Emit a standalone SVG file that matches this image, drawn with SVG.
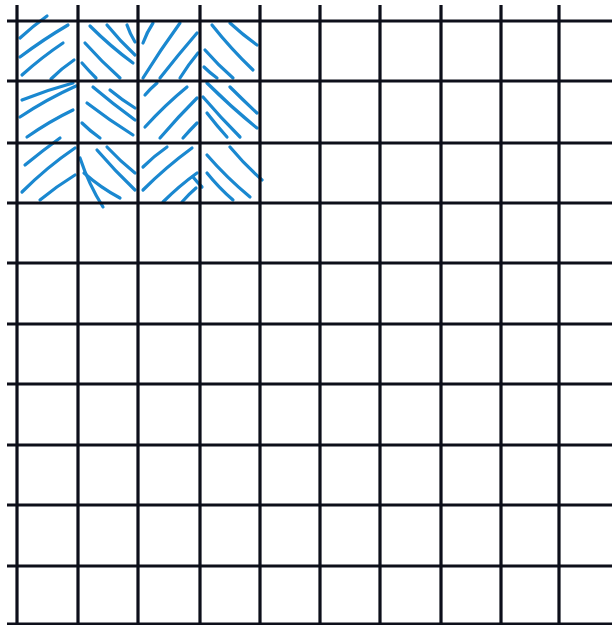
<svg xmlns="http://www.w3.org/2000/svg" width="612" height="625" viewBox="0 0 612 625">
<style>
.g{stroke:#0d0f1a;stroke-width:3.2;fill:none}
.h{stroke:#1a88d0;stroke-width:3.2;fill:none;stroke-linecap:round}
</style>
<rect width="612" height="625" fill="#ffffff"/>
<g id="hatching" class="h">
<!-- c0 r0 / -->
<path d="M20,38 Q33,26 47,16"/>
<path d="M20,57 Q44,39 68,25"/>
<path d="M22,75 Q42,57 63,43"/>
<path d="M51,79 Q62,68 74,60"/>
<!-- c1 r0 \ -->
<path d="M90,26 Q110,46 133,63"/>
<path d="M85,43 Q101,61 120,78"/>
<path d="M82,63 Q89,71 96,78"/>
<path d="M107,25 Q120,41 135,55"/>
<path d="M127,25 Q130,34 135,42"/>
<!-- c2 r0 / -->
<path d="M143,43 Q147,32 153,23"/>
<path d="M143,78 Q161,49 180,23"/>
<path d="M160,78 Q178,55 197,33"/>
<path d="M180,78 Q188,65 198,53"/>
<!-- c3 r0 \ -->
<path d="M212,25 Q231,49 253,70"/>
<path d="M230,23 Q243,35 257,45"/>
<path d="M205,50 Q218,65 233,78"/>
<path d="M204,67 Q210,73 217,78"/>
<!-- c0 r1 / -->
<path d="M22,100 Q47,90 73,83"/>
<path d="M20,117 Q47,99 76,86"/>
<path d="M27,137 Q50,121 73,110"/>
<!-- c1 r1 \ -->
<path d="M93,87 Q113,104 135,120"/>
<path d="M87,103 Q109,120 133,135"/>
<path d="M82,123 Q90,131 100,138"/>
<path d="M110,90 Q122,100 135,108"/>
<!-- c2 r1 / -->
<path d="M145,95 Q150,89 157,83"/>
<path d="M145,127 Q165,105 187,87"/>
<path d="M160,138 Q178,117 197,98"/>
<path d="M183,138 Q190,130 197,123"/>
<!-- c3 r1 \ -->
<path d="M207,83 Q231,107 257,128"/>
<path d="M203,97 Q221,118 240,137"/>
<path d="M207,113 Q217,126 227,137"/>
<path d="M230,87 Q243,100 257,113"/>
<!-- c0 r2 / -->
<path d="M25,165 Q42,151 60,138"/>
<path d="M22,192 Q47,167 75,148"/>
<path d="M40,200 Q57,186 75,175"/>
<!-- c1 r2 \ -->
<path d="M80,158 Q89,185 103,207"/>
<path d="M97,150 Q115,171 135,190"/>
<path d="M107,147 Q120,161 135,173"/>
<path d="M84,173 Q101,188 120,198"/>
<!-- c2 r2 / -->
<path d="M143,190 Q166,167 192,148"/>
<path d="M143,167 Q154,156 167,147"/>
<path d="M163,202 Q179,186 197,173"/>
<path d="M182,202 Q189,194 196,188"/>
<!-- c3 r2 \ -->
<path d="M207,155 Q227,178 250,197"/>
<path d="M207,173 Q219,188 233,200"/>
<path d="M230,147 Q245,165 262,180"/>
<path d="M193,177 Q197,182 202,187"/>
</g>
<g id="grid" class="g">
<path d="M17,5V625M78,5V625M138,5V625M200,5V625M260,5V625M320,5V625M380,5V625M441,5V625M501,5V625M559,5V625"/>
<path d="M7,21H612M7,81H612M7,143H612M7,203H612M7,263H612M7,324H612M7,384H612M7,445H612M7,505H612M7,566H612M7,624H612"/>
</g>
</svg>
